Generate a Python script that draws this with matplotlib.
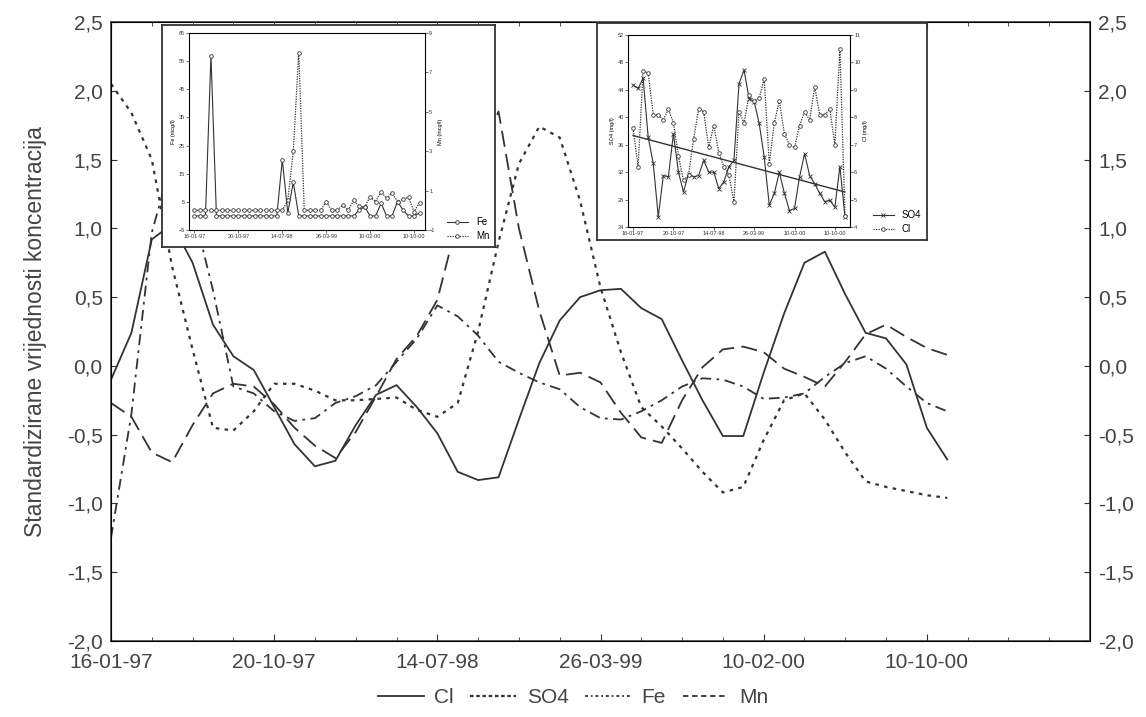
import matplotlib.pyplot as plt
import numpy as np
from matplotlib.lines import Line2D
from matplotlib.ticker import FuncFormatter, MultipleLocator

plt.rcParams['font.family'] = ['Liberation Sans', 'DejaVu Sans']

# main chart: standardized values, one point per sampling case
date_labels = ['16-01-97', '20-10-97', '14-07-98', '26-03-99', '10-02-00', '10-10-00']
date_ticks = [0, 8, 16, 24, 32, 40]

cl = [-0.10, 0.24, 0.92, 1.03, 0.75, 0.30, 0.07, -0.03, -0.30, -0.57,
      -0.73, -0.69, -0.43, -0.21, -0.14, -0.30, -0.49, -0.77, -0.83, -0.81,
      -0.39, 0.02, 0.33, 0.50, 0.55, 0.56, 0.42, 0.34, 0.04, -0.25,
      -0.51, -0.51, -0.05, 0.38, 0.75, 0.83, 0.52, 0.24, 0.20, 0.01,
      -0.45, -0.68]
so4 = [2.05, 1.84, 1.50, 0.72, 0.12, -0.45, -0.47, -0.33, -0.13, -0.13,
       -0.18, -0.25, -0.25, -0.24, -0.23, -0.32, -0.37, -0.27, 0.25, 0.90,
       1.47, 1.74, 1.66, 1.20, 0.57, 0.10, -0.30, -0.44, -0.60, -0.77,
       -0.92, -0.88, -0.54, -0.25, -0.20, -0.39, -0.63, -0.84, -0.88, -0.91,
       -0.94, -0.96]
fe = [-1.25, -0.35, 0.97, 1.50, 1.15, 0.55, -0.15, -0.20, -0.33, -0.40,
      -0.38, -0.27, -0.22, -0.14, 0.03, 0.20, 0.44, 0.36, 0.22, 0.03,
      -0.05, -0.12, -0.17, -0.30, -0.38, -0.39, -0.33, -0.25, -0.15, -0.09,
      -0.10, -0.15, -0.24, -0.23, -0.20, -0.08, 0.02, 0.07, -0.02, -0.15,
      -0.27, -0.33]
mn = [-0.27, -0.37, -0.63, -0.70, -0.43, -0.20, -0.13, -0.15, -0.28, -0.45,
      -0.58, -0.67, -0.48, -0.22, 0.05, 0.22, 0.48, 1.06, 1.47, 1.85,
      1.00, 0.40, -0.07, -0.05, -0.12, -0.34, -0.52, -0.56, -0.25, -0.01,
      0.12, 0.14, 0.10, -0.02, -0.08, -0.15, 0.03, 0.23, 0.30, 0.21,
      0.13, 0.08]

# left inset: Fe and Mn concentrations
fe_raw = [0, 0, 0, 57, 0, 0, 0, 0, 0, 0, 0, 0, 0, 0, 0, 0,
          20, 1, 12, 0, 0, 0, 0, 0, 0, 0, 0, 0, 0, 0,
          2.1, 3.3, 0, 0, 4.5, 0, 0, 5.1, 2.1, 0, 0, 1]
mn_raw = [0, 0, 0, 0, 0, 0, 0, 0, 0, 0, 0, 0, 0, 0, 0, 0, 0,
          0.5, 3.0, 8.0, 0, 0, 0, 0, 0.44, 0, 0, 0.27, 0, 0.5,
          0.2, 0.15, 0.7, 0.44, 0.95, 0.6, 0.9, 0.44, 0.56, 0.66, -0.07, 0.39]

# right inset: SO4 and Cl concentrations
so4_raw = [44.7, 44.2, 45.7, 37.1, 33.3, 25.5, 31.5, 31.3, 37.6, 32.0,
           29.1, 31.8, 31.3, 31.5, 33.7, 32.0, 32.0, 29.6, 30.6, 32.8,
           33.7, 44.9, 46.9, 42.7, 42.3, 39.1, 34.2, 27.2, 28.9, 32.0,
           28.9, 26.4, 26.7, 31.3, 34.7, 31.5, 30.3, 28.9, 27.7, 27.9,
           26.9, 32.8, 25.5]
cl_raw = [7.6, 6.2, 9.7, 9.6, 8.1, 8.1, 7.9, 8.3, 7.8, 6.6,
          5.7, 5.9, 7.2, 8.3, 8.2, 6.9, 7.7, 6.7, 6.2, 5.9,
          4.9, 8.2, 7.8, 8.8, 8.6, 8.7, 9.4, 6.3, 7.8, 8.6,
          7.4, 7.0, 6.9, 7.7, 8.2, 7.9, 9.1, 8.1, 8.1, 8.3,
          7.0, 10.5, 4.4]

ink = '#333333'
txt = '#444444'
W, H = 1146, 717


def rect(x0, y0, x1, y1):
    return [x0 / W, 1 - y1 / H, (x1 - x0) / W, (y1 - y0) / H]


def comma(v, pos):
    return f'{round(v, 1) + 0.0:.1f}'.replace('.', ',')


fig = plt.figure(figsize=(11.46, 7.17), dpi=100)
ax = fig.add_axes(rect(111, 22, 1090, 641))

x = np.arange(len(cl))
ax.plot(x, cl, color=ink, lw=1.3, label='Cl')
ax.plot(x, so4, color=ink, lw=1.6, dashes=(1.6, 2.4), label='SO4')
ax.plot(x, fe, color=ink, lw=1.3, dashes=(6, 3, 1.5, 3), label='Fe')
ax.plot(x, mn, color=ink, lw=1.3, dashes=(9, 4), label='Mn')

ax.set_xlim(0, 48)
ax.set_ylim(-2.0, 2.5)
ax.set_xticks(date_ticks)
ax.set_xticklabels(date_labels)
ax.xaxis.set_minor_locator(MultipleLocator(2))
ax.yaxis.set_major_locator(MultipleLocator(0.5))
ax.yaxis.set_major_formatter(FuncFormatter(comma))
ax.tick_params(axis='both', which='both', direction='in', colors=ink,
               top=True, labelcolor=txt)
ax.tick_params(axis='y', labelsize=15, length=4, pad=6)
ax.tick_params(axis='x', labelsize=15, length=5, pad=9)
ax.tick_params(axis='x', which='minor', length=3)
for s in ax.spines.values():
    s.set_color(ink)
    s.set_linewidth(1.1)
ax.set_ylabel('Standardizirane vrijednosti koncentracija', fontsize=16.5,
              color=txt, labelpad=14)

ax2 = ax.twinx()
ax2.set_ylim(-2.0, 2.5)
ax2.yaxis.set_major_locator(MultipleLocator(0.5))
ax2.yaxis.set_major_formatter(FuncFormatter(comma))
ax2.tick_params(axis='y', direction='in', labelsize=15, length=4, pad=6,
                colors=ink, labelcolor=txt)

handles = [Line2D([], [], color=ink, lw=1.3),
           Line2D([], [], color=ink, lw=1.6, dashes=(1.6, 1.2)),
           Line2D([], [], color=ink, lw=1.3, dashes=(1.6, 1.6, 1, 1.6)),
           Line2D([], [], color=ink, lw=1.3, dashes=(3, 2))]
fig.legend(handles, ['Cl', 'SO4', 'Fe', 'Mn'], loc='lower center',
           bbox_to_anchor=(0.5, -0.012), ncol=4, frameon=False, fontsize=15,
           handlelength=2.2, columnspacing=0.8, handletextpad=0.5,
           labelcolor=txt)


def inset_frame(r):
    f = fig.add_axes(r, zorder=5)
    f.set_facecolor('white')
    f.set_xticks([])
    f.set_yticks([])
    for s in f.spines.values():
        s.set_color(ink)
        s.set_linewidth(1.3)
    return f


def style_inner(a):
    a.set_xticks(date_ticks)
    a.set_xticklabels(date_labels)
    a.tick_params(labelsize=4, length=2, width=0.5, pad=1, colors=ink)
    for s in a.spines.values():
        s.set_linewidth(0.7)
        s.set_color(ink)


# left inset
fr1 = inset_frame(rect(162, 25, 495, 247))
in1 = fig.add_axes(rect(189, 33, 425, 230), zorder=6)
xi = np.arange(len(fe_raw))
in1.plot(xi, fe_raw, color=ink, lw=0.8, marker='o', ms=2.6,
         mfc='white', mew=0.6)
in1.set_xlim(-1, 42)
in1.set_ylim(-5, 65)
in1.set_yticks(np.arange(-5, 66, 10))
in1.set_ylabel('Fe (mcg/l)', fontsize=4, labelpad=2)
style_inner(in1)
in1b = in1.twinx()
in1b.plot(xi, mn_raw, color=ink, lw=0.9, ls=(0, (1, 1)), marker='o',
          ms=2.6, mfc='white', mew=0.6)
in1b.set_ylim(-1, 9)
in1b.set_yticks(np.arange(-1, 10, 2))
in1b.set_ylabel('Mn (mcg/l)', fontsize=4, labelpad=2)
in1b.tick_params(labelsize=4, length=2, width=0.5, pad=1, colors=ink)
h1 = [Line2D([], [], color=ink, lw=0.8, marker='o', ms=2.6, mfc='white', mew=0.6),
      Line2D([], [], color=ink, lw=0.9, ls=(0, (1, 1)), marker='o', ms=2.6,
             mfc='white', mew=0.6)]
fr1.legend(h1, ['Fe', 'Mn'], loc='lower right', frameon=False, fontsize=7,
           handlelength=2.2, borderaxespad=0.2, labelspacing=0.4)

# right inset
fr2 = inset_frame(rect(597, 23, 927, 240))
in2 = fig.add_axes(rect(628, 35, 850, 227), zorder=6)
xr = np.arange(len(so4_raw))
in2.plot(xr, so4_raw, color=ink, lw=0.8, marker='x', ms=2.2, mew=0.6)
k, b = np.polyfit(xr, so4_raw, 1)
in2.plot(xr, k * xr + b, color=ink, lw=1.0)
in2.set_xlim(-1, 43)
in2.set_ylim(24, 52)
in2.set_yticks(np.arange(24, 53, 4))
in2.set_ylabel('SO4 (mg/l)', fontsize=4, labelpad=2)
style_inner(in2)
in2b = in2.twinx()
in2b.plot(xr, cl_raw, color=ink, lw=0.9, ls=(0, (1, 1)), marker='o',
          ms=2.6, mfc='white', mew=0.6)
in2b.set_ylim(4, 11)
in2b.set_yticks(np.arange(4, 12, 1))
in2b.set_ylabel('Cl (mg/l)', fontsize=4, labelpad=2)
in2b.tick_params(labelsize=4, length=2, width=0.5, pad=1, colors=ink)
h2 = [Line2D([], [], color=ink, lw=0.8, marker='x', ms=3, mew=0.6),
      Line2D([], [], color=ink, lw=0.9, ls=(0, (1, 1)), marker='o', ms=2.6,
             mfc='white', mew=0.6)]
fr2.legend(h2, ['SO4', 'Cl'], loc='lower right', frameon=False, fontsize=7,
           handlelength=2.2, borderaxespad=0.2, labelspacing=0.4)

fig.savefig('out.png', dpi=100, facecolor='white')
